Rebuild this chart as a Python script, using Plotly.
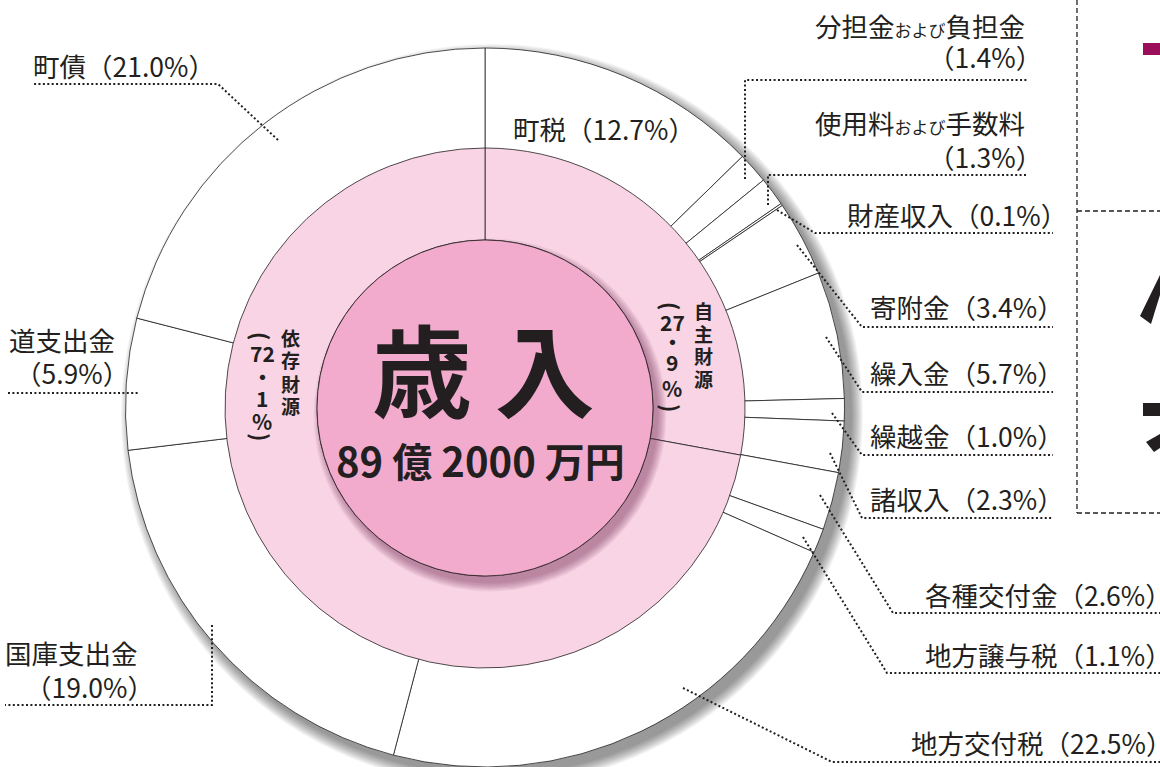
import plotly.graph_objects as go

W, H = 1160, 767

# ---------------- data ----------------
outer_labels = ["町税", "分担金および負担金", "使用料および手数料", "財産収入", "寄附金",
                "繰入金", "繰越金", "諸収入", "各種交付金", "地方譲与税",
                "地方交付税", "国庫支出金", "道支出金", "町債"]
outer_values = [12.7, 1.4, 1.3, 0.1, 3.4, 5.7, 1.0, 2.3, 2.6, 1.1, 22.5, 19.0, 5.9, 21.0]
group_labels = ["自主財源", "依存財源"]
group_values = [27.9, 72.1]
title_text = "歳 入"
total_text = "89 億 2000 万円"

# ---------------- style / layout ----------------
INK = "#231F20"
FONT = "Noto Sans CJK JP"
PINK_RING = "#F8D4E4"
PINK_CENTER = "#F2ABCD"
LABEL_SIZE = 26.5

CX, CY = 485, 408
R_OUT, R_MID, R_IN = 360, 260, 168


def X(px):
    return px / W


def Y(py):
    return 1 - py / H


def dom(r):
    return dict(x=[X(CX - r), X(CX + r)], y=[max(0.0, Y(CY + r)), min(1.0, Y(CY - r))])


fig = go.Figure()
fig.add_trace(go.Pie(
    labels=outer_labels, values=outer_values, sort=False, direction="clockwise", rotation=0,
    hole=0.6, textinfo="none", showlegend=False, domain=dom(R_OUT),
    marker=dict(colors=["#FFFFFF"] * len(outer_values), line=dict(color=INK, width=0.8)),
))
fig.add_trace(go.Pie(
    labels=group_labels, values=group_values, sort=False, direction="clockwise", rotation=0,
    hole=R_IN / R_MID, textinfo="none", showlegend=False, domain=dom(R_MID),
    marker=dict(colors=[PINK_RING] * len(group_values), line=dict(color=INK, width=0.8)),
))

shapes = []
annotations = []


def circle(cx, cy, r, fill, line_w=0, layer="above"):
    shapes.append(dict(type="circle", xref="paper", yref="paper",
                       x0=X(cx - r), x1=X(cx + r), y0=Y(cy + r), y1=Y(cy - r),
                       fillcolor=fill, line=dict(color=INK, width=line_w), layer=layer))


def path(points, dash, width=2, layer="above", color=INK, closed=False, fill=None):
    d = "M " + " L ".join(f"{X(x):.5f},{Y(y):.5f}" for x, y in points)
    if closed:
        d += " Z"
    s = dict(type="path", xref="paper", yref="paper", path=d, layer=layer,
             line=dict(color=color, width=width, dash=dash))
    if fill:
        s["fillcolor"] = fill
    shapes.append(s)


# outer drop shadow (soft)
for k in range(12):
    circle(CX + 7, CY + 7, R_OUT + k, "rgba(0,0,0,0.04)", layer="below")

# ---------------- outer labels ----------------
LABEL_POS = {
    "町税": ([(604, 128, "center")], None),
    "分担金および負担金": ([(1027, 25, "right"), (1044, 56, "right")],
                    [(745, 179), (745, 80), (1028, 80)]),
    "使用料および手数料": ([(1027, 123, "right"), (1044, 156, "right")],
                    [(768, 205), (768, 175), (1028, 175)]),
    "財産収入": ([(1069, 214, "right")], [(777, 210), (815, 233), (1053, 233)]),
    "寄附金": ([(1066, 306, "right")], [(797, 245), (862, 327), (1053, 327)]),
    "繰入金": ([(1066, 372, "right")], [(826, 337), (862, 392), (1053, 392)]),
    "繰越金": ([(1066, 435, "right")], [(832, 413), (862, 455), (1053, 455)]),
    "諸収入": ([(1066, 498, "right")], [(830, 453), (862, 518), (1053, 518)]),
    "各種交付金": ([(1174, 594, "right")], [(820, 495), (893, 613), (1160, 613)]),
    "地方譲与税": ([(1174, 654, "right")], [(803, 537), (887, 673), (1160, 673)]),
    "地方交付税": ([(1174, 742, "right")], [(683, 688), (832, 762), (1160, 762)]),
    "国庫支出金": ([(140, 652, "right"), (156, 686, "right")],
              [(212, 625), (212, 705), (5, 705)]),
    "道支出金": ([(117, 339, "right"), (131, 372, "right")], [(8, 393), (140, 393)]),
    "町債": ([(31, 65, "left")], [(278, 140), (218, 84), (32, 84)]),
}


def name_html(s):
    return s.replace("および", "<span style='font-size:17px'>および</span>")


for name, val in zip(outer_labels, outer_values):
    pos, leader = LABEL_POS[name]
    pct = f"（{val:.1f}%）"
    texts = [name_html(name) + pct] if len(pos) == 1 else [name_html(name), pct]
    for (x, y, anc), t in zip(pos, texts):
        annotations.append(dict(x=X(x), y=Y(y), xref="paper", yref="paper", text=t,
                                showarrow=False, xanchor=anc, yanchor="middle",
                                font=dict(family=FONT, size=LABEL_SIZE, color=INK)))
    if leader:
        path(leader, "2px,2.4px", width=2)

# ---------------- centre ----------------
for k in range(8):
    circle(CX + 5, CY + 7, R_IN + k * 1.2, "rgba(120,40,80,0.07)")
circle(CX, CY, R_IN, PINK_CENTER, line_w=0.8)

annotations.append(dict(x=X(483), y=Y(366), xref="paper", yref="paper", text=f"<b>{title_text}</b>",
                        showarrow=False, xanchor="center", yanchor="middle",
                        font=dict(family=FONT, size=100, color=INK)))
annotations.append(dict(x=X(480), y=Y(460), xref="paper", yref="paper", text=f"<b>{total_text}</b>",
                        showarrow=False, xanchor="center", yanchor="middle",
                        font=dict(family=FONT, size=40, color=INK)))


# ---------------- vertical ring labels ----------------
def vertical(tokens, x, ys, size=19):
    for t, y in zip(tokens, ys):
        is_paren = t in ("(", ")")
        annotations.append(dict(x=X(x), y=Y(y), xref="paper", yref="paper", text=f"<b>{t}</b>",
                                showarrow=False, xanchor="center", yanchor="middle",
                                textangle=90 if is_paren else 0,
                                font=dict(family=FONT, size=22 if is_paren else size, color=INK)))


def pct_tokens(v):
    a, b = f"{v:.1f}".split(".")
    return ["(", a, "・", b, "%", ")"]


vertical(list(group_labels[0]), 703, [311, 333, 355, 378])
vertical(pct_tokens(group_values[0]), 672, [306, 322, 341, 362, 388, 408], size=21)
vertical(list(group_labels[1]), 290, [338, 360, 383, 406])
vertical(pct_tokens(group_values[1]), 262, [336, 353, 376, 398, 421, 437], size=21)

# ---------------- neighbouring box (cut off at right edge) ----------------
path([(1077, 0), (1077, 513)], "5px,3px", width=1.3)
path([(1077, 211), (1160, 211)], "5px,3px", width=1.3)
path([(1077, 513), (1160, 513)], "5px,3px", width=1.3)
shapes.append(dict(type="rect", xref="paper", yref="paper", x0=X(1143), x1=X(1160),
                   y0=Y(55), y1=Y(43), fillcolor="#9B0F5A", line=dict(width=0), layer="above"))
path([(1160, 275), (1160, 295), (1151, 324), (1140, 316)], "solid", width=0, closed=True, fill=INK)
shapes.append(dict(type="rect", xref="paper", yref="paper", x0=X(1143), x1=X(1160),
                   y0=Y(416), y1=Y(403), fillcolor=INK, line=dict(width=0), layer="above"))
path([(1146, 442), (1160, 434), (1160, 448), (1154, 452)], "solid", width=0, closed=True, fill=INK)

fig.update_layout(
    width=W, height=H, margin=dict(l=0, r=0, t=0, b=0),
    paper_bgcolor="white", plot_bgcolor="white",
    shapes=shapes, annotations=annotations, showlegend=False,
)
fig.write_html("out.html", config={"displayModeBar": False},
               post_script="document.body.style.margin='0';document.body.style.overflow='hidden';")
